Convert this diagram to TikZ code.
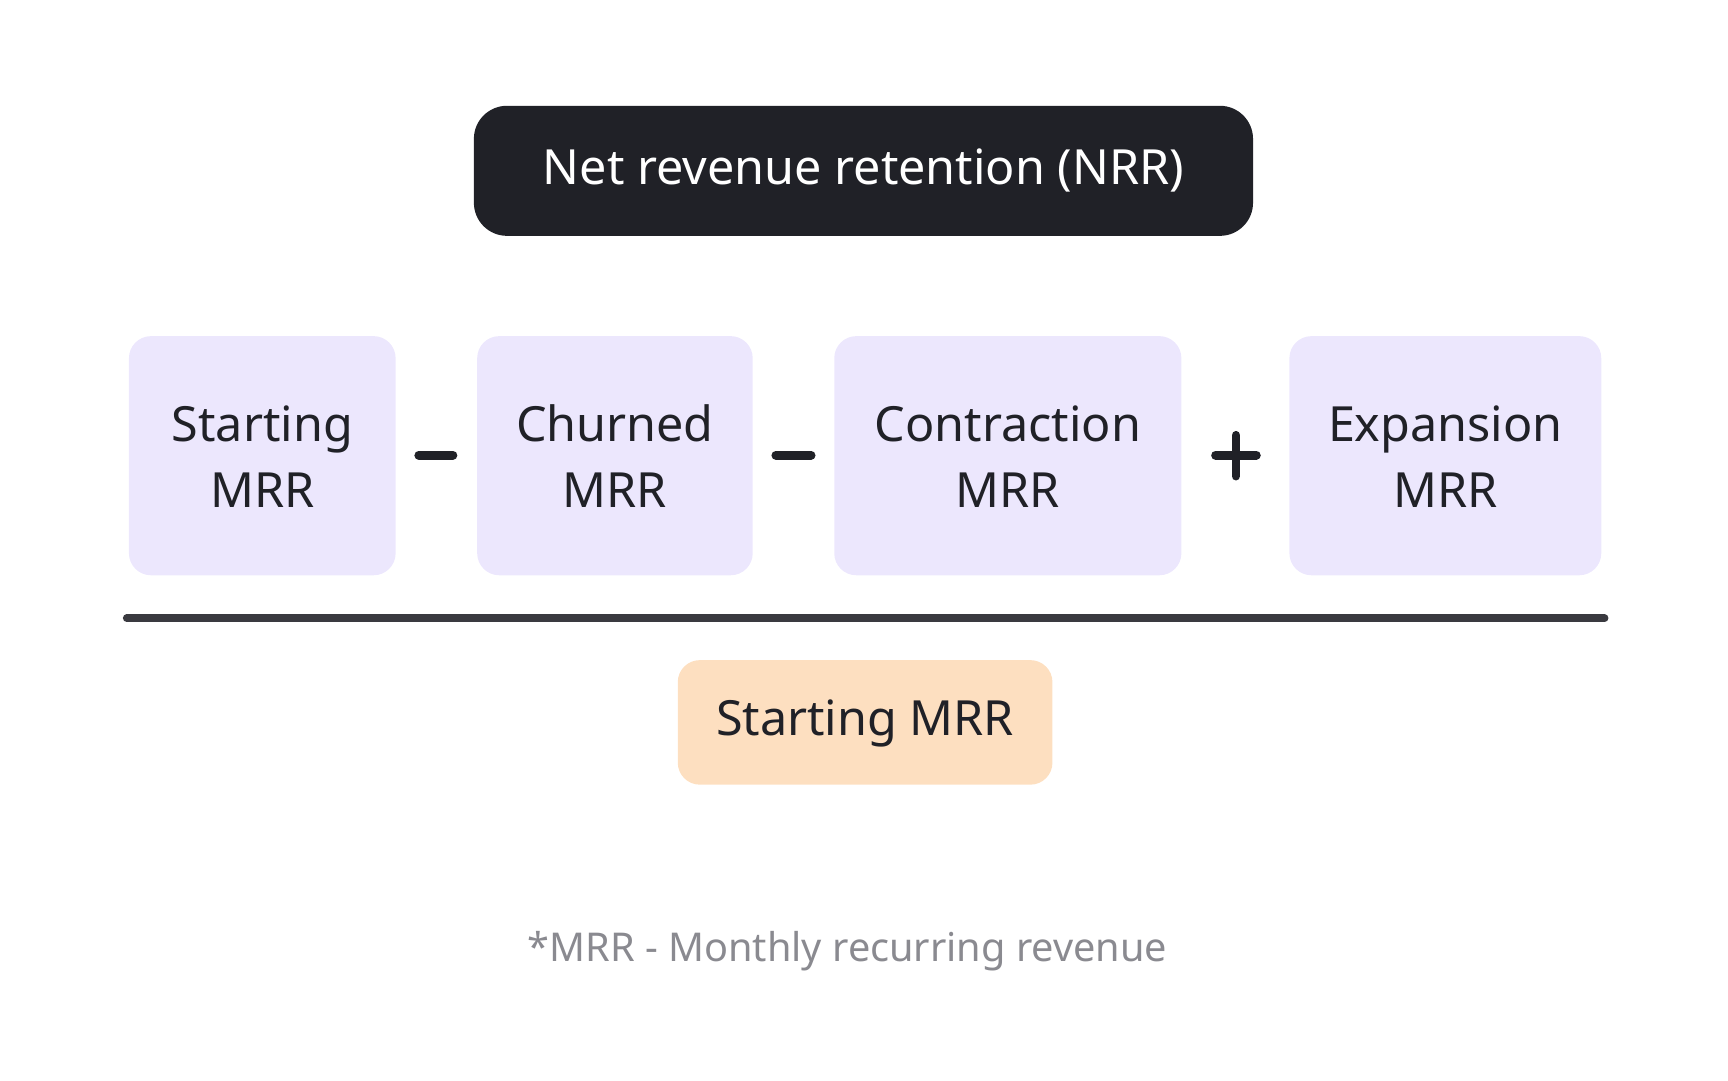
\documentclass[tikz,border=0pt]{standalone}
\usepackage{fontspec}
\setmainfont{Noto Sans}
\begin{document}
\begin{tikzpicture}[x=0.5pt,y=-0.5pt,
  purp/.style={fill=purpbg,rounded corners=10pt,align=center,font=\fontsize{22}{30}\selectfont,text=ink},
  sym/.style={line width=4pt,draw=ink,line cap=round}]
\definecolor{ink}{HTML}{202127}
\definecolor{purpbg}{HTML}{ECE7FD}
\definecolor{peach}{HTML}{FDDFC0}
\definecolor{gry}{HTML}{8A8A90}
\definecolor{rule}{HTML}{3A3A40}
\useasboundingbox (0,0) rectangle (1568,980);
\fill[ink,rounded corners=15pt] (430,96) rectangle (1137,214);
\node[text=white,font=\fontsize{22}{26}\selectfont\bfseries] (t) at (783.5,155) {Net revenue retention (NRR)};
\fill[purpbg,rounded corners=10pt] (117,305) rectangle (359,522);
\fill[purpbg,rounded corners=10pt] (433,305) rectangle (683,522);
\fill[purpbg,rounded corners=10pt] (757,305) rectangle (1072,522);
\fill[purpbg,rounded corners=10pt] (1170,305) rectangle (1453,522);
\node[purp,fill=none] (a) at (238,414) {Starting\\MRR};
\node[purp,fill=none] (b) at (558,414) {Churned\\MRR};
\node[purp,fill=none] (c) at (914.5,414) {Contraction\\MRR};
\node[purp,fill=none] (d) at (1311.5,414) {Expansion\\MRR};
\draw[sym] (380,413) -- (411,413);
\draw[sym] (704,413) -- (736,413);
\draw[sym] (1103,413) -- (1140,413);
\draw[sym] (1121.5,395) -- (1121.5,432);
\draw[line width=3.5pt,draw=rule,line cap=round] (115,561) -- (1456,561);
\fill[peach,rounded corners=10pt] (615,599) rectangle (955,712);
\node[text=ink,font=\fontsize{22}{26}\selectfont] (s) at (785,656) {Starting MRR};
\node[text=gry,font=\fontsize{18}{22}\selectfont] (f) at (769,863) {*MRR - Monthly recurring revenue};
\end{tikzpicture}
\end{document}
